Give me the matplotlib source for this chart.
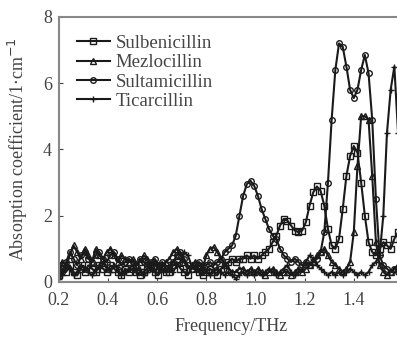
import numpy as np
import matplotlib
matplotlib.use("Agg")
from matplotlib import pyplot as plt

plt.rcParams['font.family'] = ['Liberation Serif', 'DejaVu Serif']

# frequency grid (THz)
freq = np.round(0.2 + 0.015 * np.arange(94), 3)

sulbenicillin = [0.2, 0.4, 0.3, 0.5, 0.3, 0.2, 0.4, 0.3, 0.5, 0.4,
                 0.3, 0.5, 0.4, 0.3, 0.5, 0.4, 0.3, 0.2, 0.4, 0.3,
                 0.4, 0.3, 0.2, 0.3, 0.4, 0.5, 0.3, 0.2, 0.4, 0.3,
                 0.3, 0.5, 0.6, 0.4, 0.3, 0.2, 0.4, 0.5, 0.3, 0.2,
                 0.3, 0.4, 0.3, 0.2, 0.4, 0.5, 0.6, 0.7, 0.6, 0.7,
                 0.7, 0.8, 0.7, 0.8, 0.7, 0.8, 0.9, 1.0, 1.2, 1.4,
                 1.7, 1.9, 1.85, 1.7, 1.55, 1.5, 1.55, 1.8, 2.3, 2.7,
                 2.88, 2.75, 2.3, 1.6, 1.1, 1.0, 1.3, 2.2, 3.2, 3.8,
                 4.1, 3.9, 3.0, 2.0, 1.2, 0.9, 0.8, 1.0, 1.2, 1.1,
                 1.0, 1.3, 1.5, 1.4]

mezlocillin = [0.3, 0.6, 0.5, 0.8, 1.1, 0.9, 0.7, 1.0, 0.8, 0.6,
               1.0, 0.8, 0.7, 0.9, 1.0, 0.8, 0.6, 0.8, 0.7, 0.6,
               0.7, 0.5, 0.6, 0.8, 0.7, 0.5, 0.6, 0.4, 0.5, 0.6,
               0.7, 0.9, 1.0, 0.8, 0.6, 0.4, 0.5, 0.6, 0.5, 0.4,
               0.8, 1.0, 1.05, 0.9, 0.7, 0.5, 0.4, 0.3, 0.3, 0.4,
               0.4, 0.3, 0.4, 0.3, 0.4, 0.3, 0.2, 0.3, 0.4, 0.3,
               0.2, 0.3, 0.3, 0.2, 0.3, 0.4, 0.3, 0.4, 0.5, 0.6,
               0.8, 0.9, 1.0, 0.8, 0.6, 0.5, 0.4, 0.3, 0.4, 0.6,
               1.5, 3.5, 5.0, 5.0, 4.9, 3.2, 1.2, 0.5, 0.3, 0.2,
               0.3, 0.4, 0.5, 0.6]

sultamicillin = [0.5, 0.3, 0.6, 0.9, 0.7, 0.5, 0.8, 0.9, 0.7, 0.6,
                 0.8, 0.9, 0.7, 0.6, 0.8, 0.9, 0.7, 0.5, 0.6, 0.7,
                 0.6, 0.5, 0.7, 0.6, 0.5, 0.6, 0.7, 0.5, 0.6, 0.5,
                 0.4, 0.6, 0.8, 0.9, 0.7, 0.5, 0.4, 0.5, 0.6, 0.5,
                 0.5, 0.6, 0.5, 0.6, 0.7, 0.9, 1.0, 1.1, 1.4, 2.0,
                 2.6, 2.95, 3.05, 2.9, 2.6, 2.2, 1.9, 1.6, 1.4, 1.3,
                 1.0, 0.8, 0.7, 0.6, 0.7, 0.6, 0.5, 0.6, 0.5, 0.6,
                 0.7, 0.9, 1.5, 3.0, 4.9, 6.4, 7.2, 7.1, 6.5, 5.8,
                 5.55, 5.8, 6.4, 6.85, 6.3, 4.9, 2.5, 0.8, 0.5, 0.4,
                 0.3, 0.4, 0.3, 0.4]

ticarcillin = [0.1, 0.2, 0.5, 0.4, 0.2, 0.3, 0.5, 0.4, 0.3, 0.2,
               0.3, 0.5, 0.6, 0.4, 0.3, 0.5, 0.4, 0.2, 0.3, 0.4,
               0.5, 0.3, 0.4, 0.2, 0.3, 0.4, 0.3, 0.5, 0.4, 0.3,
               0.4, 0.3, 0.5, 0.6, 0.9, 0.8, 0.5, 0.4, 0.3, 0.4,
               0.3, 0.2, 0.3, 0.4, 0.3, 0.2, 0.3, 0.2, 0.1, 0.2,
               0.3, 0.2, 0.3, 0.2, 0.3, 0.2, 0.3, 0.4, 0.3, 0.2,
               0.3, 0.4, 0.5, 0.3, 0.2, 0.3, 0.4, 0.6, 0.8, 0.7,
               0.5, 0.4, 0.3, 0.2, 0.3, 0.2, 0.3, 0.2, 0.3, 0.4,
               0.3, 0.2, 0.3, 0.2, 0.3, 0.5, 0.6, 0.8, 2.0, 4.5,
               5.8, 6.5, 4.5, 2.0]

names = ["Sulbenicillin", "Mezlocillin", "Sultamicillin", "Ticarcillin"]
markers = ["s", "^", "o", "+"]

fig = plt.figure(figsize=(3.97, 3.38), dpi=100)
ax = fig.add_axes([0.148, 0.166, 0.867, 0.784])

for vals, name, m in zip([sulbenicillin, mezlocillin, sultamicillin, ticarcillin], names, markers):
    ax.plot(freq, vals, color="#1a1a1a", lw=1.5, marker=m, ms=4,
            mfc="none" if m != "+" else "#1a1a1a", mec="#1a1a1a", mew=1.0, label=name)

ax.set_xlim(0.2, 1.6)
ax.set_ylim(0, 8)
ax.set_xticks([0.2, 0.4, 0.6, 0.8, 1.0, 1.2, 1.4])
ax.set_yticks([0, 2, 4, 6, 8])
ax.tick_params(direction="in", length=3, labelsize=13, colors="#444444")
ax.tick_params(axis="x", pad=7)
ax.tick_params(axis="y", pad=5)
for s in ax.spines.values():
    s.set_color("#888888")
    s.set_linewidth(1.5)

ax.set_xlabel("Frequency/THz", fontsize=13, color="#444444", labelpad=7)
ax.set_ylabel("Absorption coefficient/1$\\cdot$cm$^{-1}$", fontsize=13, color="#444444", labelpad=9)

leg = ax.legend(loc="upper left", frameon=False, fontsize=13.5, handlelength=1.8,
                borderaxespad=0.5, borderpad=0.45, labelspacing=0.12, handletextpad=0.3)
for t in leg.get_texts():
    t.set_color("#444444")

fig.savefig("out.png", dpi=100)
